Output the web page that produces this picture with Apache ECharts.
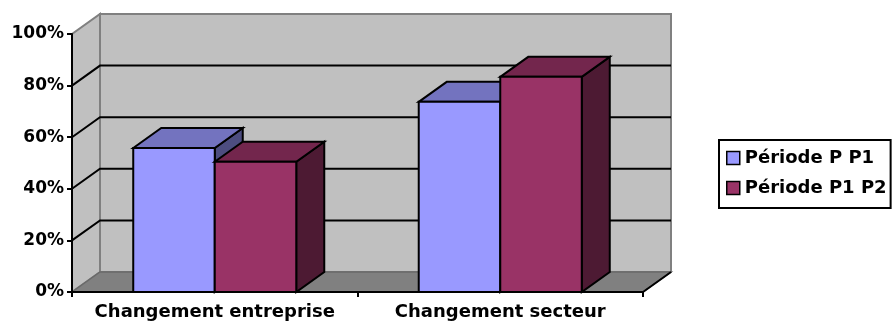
<!DOCTYPE html>
<html>
<head>
<meta charset="utf-8">
<script src="https://cdn.jsdelivr.net/npm/echarts@6/dist/echarts.min.js"></script>
<style>
  html, body { margin: 0; padding: 0; background: #fff; }
  #chart { width: 893px; height: 325px; }
</style>
</head>
<body>
<div id="chart"></div>
<script>
  const categories = ['Changement entreprise', 'Changement secteur']
  const seriesNames = ['Période P P1', 'Période P1 P2']
  const periodeP_P1 = [55.8, 73.7]
  const periodeP1_P2 = [50.5, 83.4]
  const yTicks = [0, 20, 40, 60, 80, 100]

  // depth of the fake 3d box, in px
  const DX = 28
  const DY = -20
  const BAR_RATIO = 0.2855
  const FONT = 'DejaVu Sans'

  const palette = [
    { front: '#9999ff', top: '#7373bf', side: '#4d4d80' },
    { front: '#993366', top: '#73264d', side: '#4d1a33' }
  ]

  const chartInstance = echarts.init(document.getElementById('chart'))

  const frameRenderer = (params, api) => {
    const cs = params.coordSys
    const xl = cs.x
    const xr = cs.x + cs.width
    const y0 = api.coord([0, 0])[1]
    const y1 = api.coord([0, 100])[1]
    const children = []
    // back wall
    children.push({
      type: 'polygon',
      shape: { points: [[xl + DX, y1 + DY], [xr + DX, y1 + DY], [xr + DX, y0 + DY], [xl + DX, y0 + DY]] },
      style: { fill: '#c0c0c0', stroke: '#808080', lineWidth: 2 }
    })
    // left wall
    children.push({
      type: 'polygon',
      shape: { points: [[xl, y0], [xl, y1], [xl + DX, y1 + DY], [xl + DX, y0 + DY]] },
      style: { fill: '#c0c0c0', stroke: '#808080', lineWidth: 2 }
    })
    // floor
    children.push({
      type: 'polygon',
      shape: { points: [[xl, y0], [xr, y0], [xr + DX, y0 + DY], [xl + DX, y0 + DY]] },
      style: { fill: '#808080', stroke: '#6a6a6a', lineWidth: 1.5 }
    })
    children.push({
      type: 'line',
      shape: { x1: xr, y1: y0, x2: xr + DX, y2: y0 + DY },
      style: { stroke: '#000', lineWidth: 2 }
    })
    yTicks.forEach((t) => {
      if (t === 0 || t === 100) return
      const y = api.coord([0, t])[1]
      children.push({
        type: 'polyline',
        shape: { points: [[xl, y], [xl + DX, y + DY], [xr + DX, y + DY]] },
        style: { stroke: '#000', lineWidth: 2, fill: null }
      })
    })
    return { type: 'group', children }
  }

  const barRenderer = (idx) => (params, api) => {
    const cat = api.value(0)
    const val = api.value(1)
    const base = api.coord([cat, 0])
    const top = api.coord([cat, val])
    const w = api.size([1, 0])[0] * BAR_RATIO
    const x0 = base[0] + (idx === 0 ? -w : 0)
    const x1 = x0 + w
    const yb = base[1]
    const yt = top[1]
    const c = palette[idx]
    const line = { stroke: '#000', lineWidth: 2, lineJoin: 'miter' }
    return {
      type: 'group',
      children: [
        {
          type: 'polygon',
          shape: { points: [[x1, yt], [x1 + DX, yt + DY], [x1 + DX, yb + DY], [x1, yb]] },
          style: { fill: c.side, ...line }
        },
        {
          type: 'polygon',
          shape: { points: [[x0, yt], [x0 + DX, yt + DY], [x1 + DX, yt + DY], [x1, yt]] },
          style: { fill: c.top, ...line }
        },
        {
          type: 'rect',
          shape: { x: x0, y: yt, width: w, height: yb - yt },
          style: { fill: c.front, ...line }
        }
      ]
    }
  }

  const makeBars = (name, values, idx) => ({
    name,
    type: 'custom',
    z: 3,
    clip: false,
    itemStyle: { color: palette[idx].front },
    renderItem: barRenderer(idx),
    data: values.map((v, i) => [i, v])
  })

  const option = {
    backgroundColor: '#fff',
    animation: false,
    grid: { left: 72, top: 34, width: 571, height: 258 },
    legend: {
      orient: 'vertical',
      left: 719,
      top: 140,
      padding: [9, 4, 11, 7],
      itemGap: 12,
      itemWidth: 13,
      itemHeight: 13,
      icon: 'rect',
      borderColor: '#000',
      borderWidth: 2,
      textStyle: { fontFamily: FONT, fontWeight: 'bold', fontSize: 18, color: '#000' },
      data: seriesNames.map((n, i) => ({
        name: n,
        itemStyle: { color: palette[i].front, borderColor: '#000', borderWidth: 1.5 }
      }))
    },
    xAxis: {
      type: 'category',
      data: categories,
      z: 5,
      axisLine: { lineStyle: { color: '#000', width: 2 } },
      axisTick: { show: true, length: 5, lineStyle: { color: '#000', width: 2 } },
      splitLine: { show: false },
      axisLabel: {
        interval: 0,
        hideOverlap: false,
        margin: 11,
        color: '#000',
        fontFamily: FONT,
        fontWeight: 'bold',
        fontSize: 18
      }
    },
    yAxis: {
      type: 'value',
      min: 0,
      max: 100,
      interval: 20,
      z: 5,
      axisLine: { show: true, lineStyle: { color: '#000', width: 2 } },
      axisTick: { show: true, length: 5, lineStyle: { color: '#000', width: 2 } },
      splitLine: { show: false },
      axisLabel: {
        margin: 8,
        color: '#000',
        fontFamily: FONT,
        fontWeight: 'bold',
        fontSize: 17,
        formatter: '{value}%'
      }
    },
    series: [
      {
        name: 'frame',
        type: 'custom',
        z: 1,
        clip: false,
        silent: true,
        renderItem: frameRenderer,
        data: [[0, 0]]
      },
      makeBars(seriesNames[0], periodeP_P1, 0),
      makeBars(seriesNames[1], periodeP1_P2, 1)
    ]
  }

  chartInstance.setOption(option)
</script>
</body>
</html>
